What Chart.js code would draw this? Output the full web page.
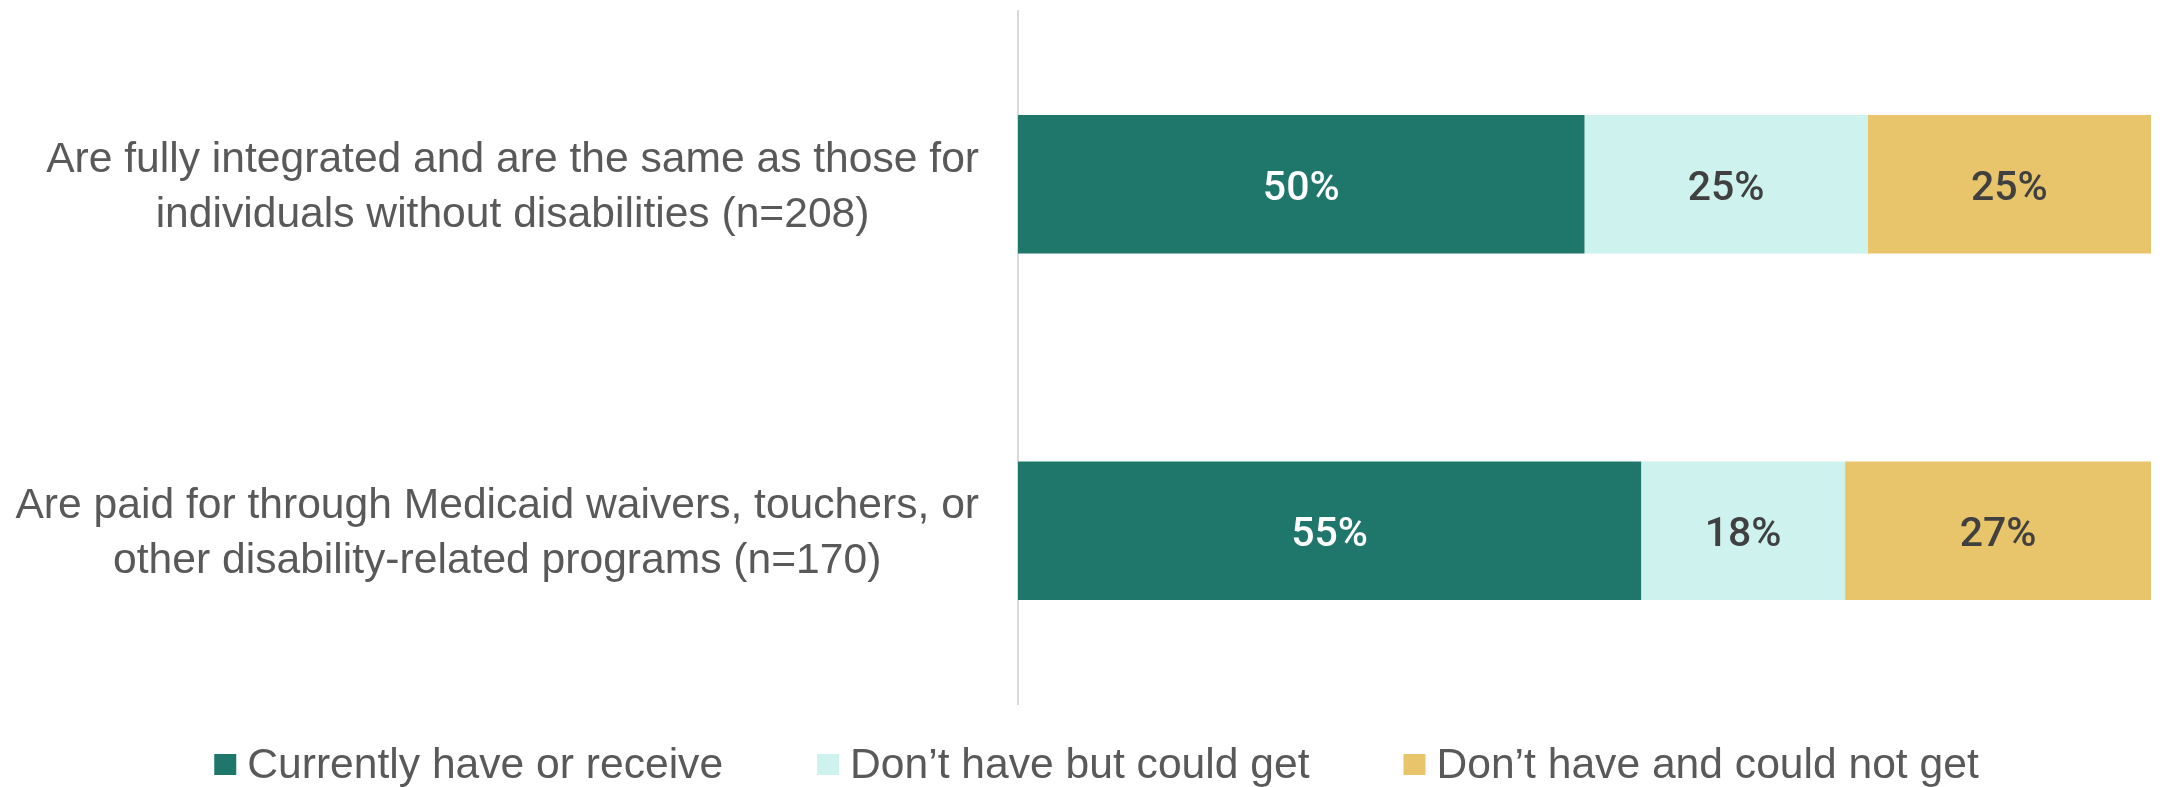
<!DOCTYPE html>
<html>
<head>
<meta charset="utf-8">
<script src="https://cdn.jsdelivr.net/npm/chart.js@4.4.0/dist/chart.umd.min.js"></script>
<style>
  body { margin: 0; background: #fff; }
  #wrap { width: 2163px; height: 787px; position: relative; }
</style>
</head>
<body>
<div id="wrap"><canvas id="services-bar"></canvas></div>
<script>
// survey rows, each label split into its two printed lines
const categories = [
  ['Are fully integrated and are the same as those for', 'individuals without disabilities (n=208)'],
  ['Are paid for through Medicaid waivers, touchers, or', 'other disability-related programs (n=170)']
];
const seriesNames = ['Currently have or receive', 'Don\u2019t have but could get', 'Don\u2019t have and could not get'];
const currentlyHave = [50, 55];
const couldGet = [25, 18];
const couldNotGet = [25, 27];

const colors = ['#1F776B', '#CEF2ED', '#E8C46A'];
const valueColors = ['#ffffff', '#404040', '#404040'];
const labelFont = '42.6px "Liberation Sans", Arial, sans-serif';
const grey = '#595959';

// multi-line row labels: block right aligned to the axis, lines centred in the block
const rowLabels = {
  id: 'rowLabels',
  afterDraw(chart) {
    const ctx = chart.ctx;
    const y = chart.scales.y;
    ctx.save();
    ctx.font = labelFont;
    ctx.fillStyle = grey;
    ctx.textAlign = 'center';
    ctx.textBaseline = 'middle';
    categories.forEach((lines, i) => {
      const w = Math.max(...lines.map(l => ctx.measureText(l).width));
      const cx = y.right - 39 - w / 2;
      const cy = y.getPixelForValue(i) + 3;
      lines.forEach((l, j) => {
        ctx.fillText(l, cx, cy + (j - (lines.length - 1) / 2) * 55);
      });
    });
    ctx.restore();
  }
};

// percentage in the middle of every segment
const valueLabels = {
  id: 'valueLabels',
  afterDatasetsDraw(chart) {
    const ctx = chart.ctx;
    ctx.save();
    ctx.font = '500 41px Roboto, sans-serif';
    ctx.textAlign = 'center';
    ctx.textBaseline = 'middle';
    chart.data.datasets.forEach((ds, d) => {
      chart.getDatasetMeta(d).data.forEach((bar, i) => {
        const p = bar.getCenterPoint();
        ctx.fillStyle = valueColors[d];
        ctx.fillText(ds.data[i] + '%', p.x, p.y + 5);
      });
    });
    ctx.restore();
  }
};

// legend along the bottom
const bottomLegend = {
  id: 'bottomLegend',
  afterDraw(chart) {
    const ctx = chart.ctx;
    const box = 22, gap = 11, spacing = 94;
    ctx.save();
    ctx.font = labelFont;
    ctx.textBaseline = 'middle';
    ctx.textAlign = 'left';
    const widths = seriesNames.map(n => box + gap + ctx.measureText(n).width);
    const total = widths.reduce((a, b) => a + b, 0) + spacing * (widths.length - 1);
    let x = chart.width / 2 + 15 - total / 2;
    const cy = 766;
    seriesNames.forEach((n, i) => {
      ctx.fillStyle = colors[i];
      ctx.fillRect(x, 754, box, 21);
      ctx.fillStyle = grey;
      ctx.fillText(n, x + box + gap, cy);
      x += widths[i] + spacing;
    });
    ctx.restore();
  }
};

const ctx = document.getElementById('services-bar');

new Chart(ctx, {
  type: 'bar',
  data: {
    labels: categories,
    datasets: [
      { label: seriesNames[0], data: currentlyHave, backgroundColor: colors[0] },
      { label: seriesNames[1], data: couldGet, backgroundColor: colors[1] },
      { label: seriesNames[2], data: couldNotGet, backgroundColor: colors[2] }
    ]
  },
  options: {
    indexAxis: 'y',
    responsive: true,
    maintainAspectRatio: false,
    animation: false,
    layout: { padding: { top: 11, right: 12, bottom: 83, left: 0 } },
    datasets: {
      bar: { categoryPercentage: 1, barPercentage: 0.4, borderWidth: 0 }
    },
    scales: {
      x: {
        stacked: true,
        min: 0,
        max: 100,
        display: false
      },
      y: {
        stacked: true,
        grid: { display: false },
        border: { display: true, color: '#d9d9d9', width: 2 },
        ticks: { display: false },
        afterFit(axis) { axis.width = 1018; }
      }
    },
    plugins: {
      legend: { display: false },
      tooltip: { enabled: false }
    }
  },
  plugins: [rowLabels, valueLabels, bottomLegend]
});
</script>
</body>
</html>
